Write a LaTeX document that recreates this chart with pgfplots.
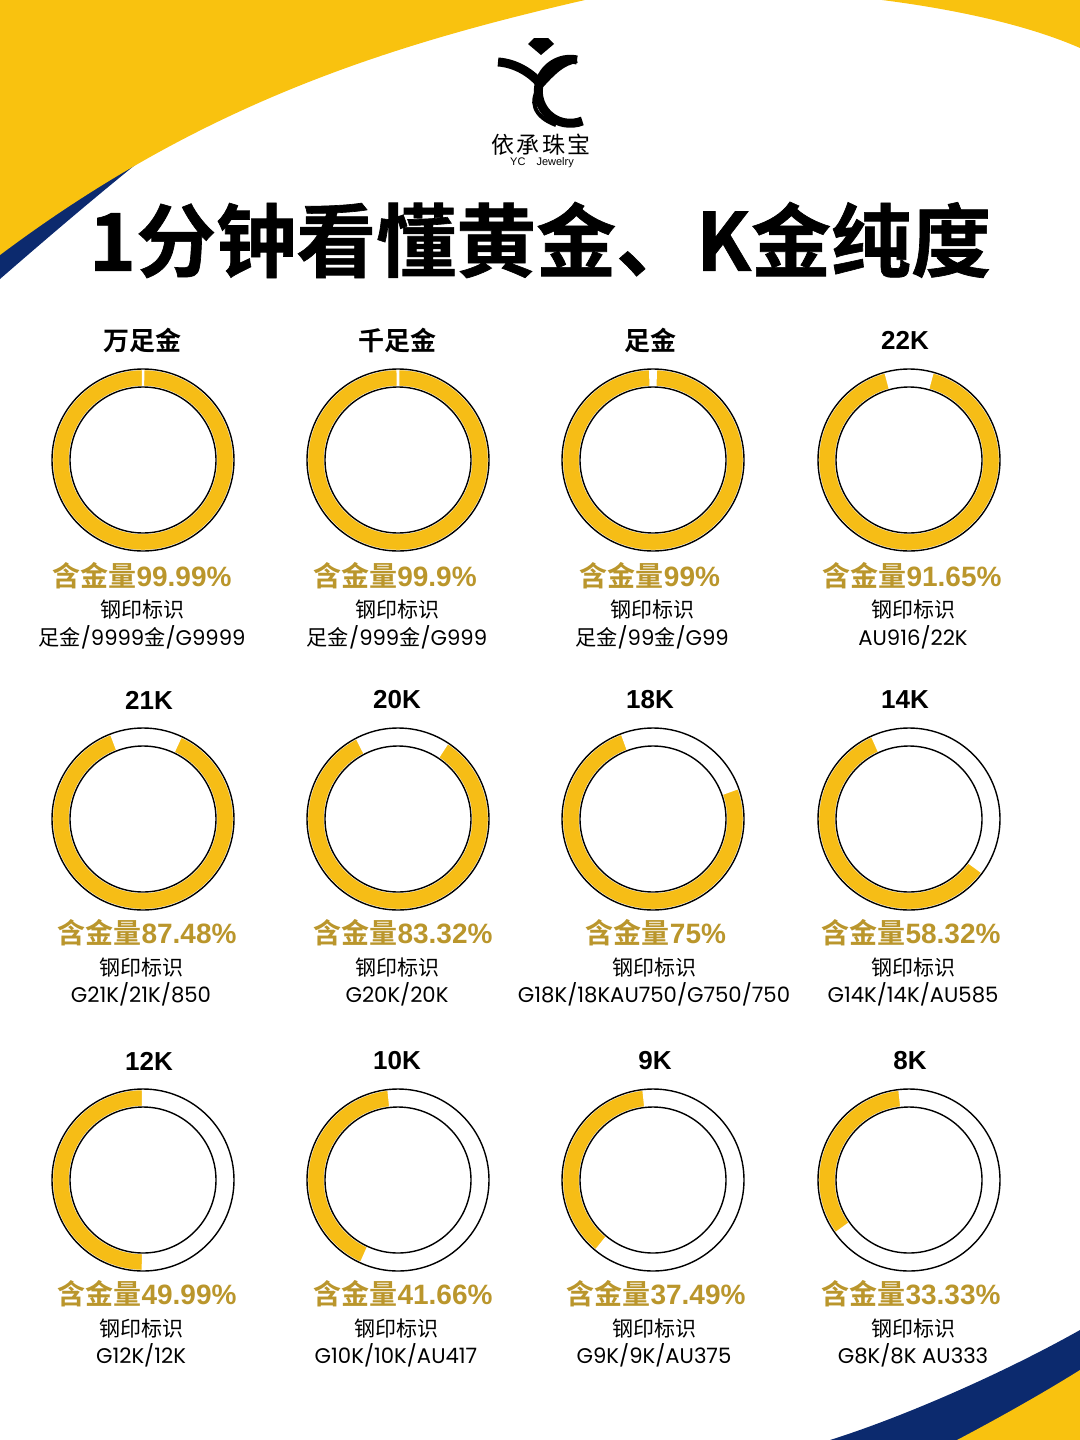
\documentclass[border=0pt]{standalone}
\usepackage{pgfplots}
\pgfplotsset{compat=1.18}
\usepackage{fontspec}
\setmainfont{Noto Sans CJK SC}[BoldFont={Noto Sans CJK SC Bold}]
\newfontfamily\cjk{Noto Sans CJK SC}[BoldFont={Noto Sans CJK SC Bold}]
\newfontfamily\heavy{Noto Sans CJK SC Bold}[FakeBold=0.8]
\newfontfamily\lib{Liberation Sans}
\newfontfamily\pop{Poppins}
\definecolor{ringyellow}{RGB}{246,189,22}
\definecolor{bgyellow}{RGB}{249,194,15}
\definecolor{navy}{RGB}{12,42,110}
\definecolor{goldtext}{RGB}{186,150,44}
\pgfdeclareplotmark{blank}{}
\pgfplotsset{
  donut/.style={
    scatter, only marks, mark=blank,
    point meta=explicit symbolic,
    scatter/@pre marker code/.code={%
      \pgfkeys{/pgf/fpu=false}%
      \pgfmathsetmacro\endang{#1+3.6*\pgfplotspointmeta}%
      \filldraw[fill=ringyellow, draw=white, line width=1.2pt] (#1:45.5pt) arc[start angle=#1, end angle=\endang, radius=45.5pt]
         -- (\endang:36.5pt) arc[start angle=\endang, end angle=#1, radius=36.5pt] -- cycle;
      \draw[black, line width=0.7pt] (0pt,0pt) circle[radius=45.5pt];
      \draw[black, line width=0.7pt] (0pt,0pt) circle[radius=36.5pt];
    },
    scatter/@post marker code/.code={},
  },
}
\newcommand\C[1]{{\cjk #1}}
% #1 label x, #2 percentage x, #3 stamp x, #4 label y, #5 label, #6 percent, #7 stamp code, #8 row shift
\newcommand\cell[8]{%
  \node[font=\bfseries\fontsize{13pt}{13pt}\selectfont] at (axis cs:#1,#4) {#5};
  \node[font=\bfseries\fontsize{14pt}{14pt}\selectfont, text=goldtext, inner sep=0pt] at (axis cs:#2,#4+236+#8) {含金量{\lib #6}};
  \node[font=\fontsize{10.5pt}{10.5pt}\selectfont] at (axis cs:#3,#4+270+#8) {钢印标识};
  \node[font=\pop\fontsize{10.6pt}{10.6pt}\selectfont] at (axis cs:#3,#4+297+#8) {#7};
}
\begin{document}
\begin{tikzpicture}
\begin{axis}[
  width=540pt, height=720pt, scale only axis,
  xmin=0, xmax=1080, ymin=0, ymax=1440, y dir=reverse,
  hide axis, clip=true,
]
% background decorations
\fill[navy] (axis cs:0,0) -- (axis cs:300,0) -- (axis cs:300,60) -- (axis cs:196,117) .. controls (axis cs:120,175) and (axis cs:45,240) .. (axis cs:0,279) -- cycle;
\fill[bgyellow] (axis cs:0,0) -- (axis cs:585,0) .. controls (axis cs:385,46) and (axis cs:200,105) .. (axis cs:0,255) -- cycle;
\fill[bgyellow] (axis cs:882,0) .. controls (axis cs:960,10) and (axis cs:1030,26) .. (axis cs:1080,48) -- (axis cs:1080,0) -- cycle;
\fill[navy] (axis cs:830,1440) .. controls (axis cs:900,1418) and (axis cs:1000,1375) .. (axis cs:1080,1330) -- (axis cs:1080,1440) -- cycle;
\fill[bgyellow] (axis cs:957,1440) .. controls (axis cs:995,1420) and (axis cs:1040,1395) .. (axis cs:1080,1370) -- (axis cs:1080,1440) -- cycle;
% logo
\fill[black] (axis cs:528,44) -- (axis cs:534,38) -- (axis cs:548,38) -- (axis cs:554,44) -- (axis cs:541,55) -- cycle;
\draw[line width=4.5pt, black] (axis cs:577,60) arc[start angle=78, end angle=292, radius=16pt];
\draw[line width=4.5pt, black] (axis cs:498,62) .. controls (axis cs:515,63) and (axis cs:532,73) .. (axis cs:541,85);
\draw[line width=3pt, black] (axis cs:541,85) .. controls (axis cs:552,73) and (axis cs:562,62) .. (axis cs:577,60);
\draw[line width=2pt, black] (axis cs:541,85) .. controls (axis cs:528,101) and (axis cs:534,117) .. (axis cs:556,125);
\node[font=\fontsize{11.5pt}{11.5pt}\selectfont] at (axis cs:541,145) {依\hspace{1.2pt}承\hspace{1.2pt}珠\hspace{1.2pt}宝};
\node[font=\lib\fontsize{5.5pt}{5.5pt}\selectfont] at (axis cs:542,163) {YC\quad Jewelry};
% title
\node[font=\heavy\fontsize{40pt}{40pt}\selectfont] at (axis cs:540,240) {1分钟看懂黄金、K金纯度};
% donuts: (centre x, centre y) [gold content in percent]
\addplot[donut=90]    coordinates {(143,460) [99.99]};
\addplot[donut=90.2]  coordinates {(398,460) [99.9]};
\addplot[donut=91.8]  coordinates {(653,460) [99]};
\addplot[donut=105]   coordinates {(909,460) [91.65]};
\addplot[donut=110.5] coordinates {(143,819) [87.48]};
\addplot[donut=117]   coordinates {(398,819) [83.32]};
\addplot[donut=110]   coordinates {(653,819) [75]};
\addplot[donut=114]   coordinates {(909,819) [58.32]};
\addplot[donut=90]    coordinates {(143,1180) [49.99]};
\addplot[donut=96]    coordinates {(398,1180) [41.66]};
\addplot[donut=96]    coordinates {(653,1180) [37.49]};
\addplot[donut=96]    coordinates {(909,1180) [33.33]};
% texts
\cell{142}{142}{142}{340}{万足金}{99.99\%}{\C{足金}/9999\C{金}/G9999}{0}
\cell{397}{395}{397}{340}{千足金}{99.9\%}{\C{足金}/999\C{金}/G999}{0}
\cell{650}{650}{652}{340}{足金}{99\%}{\C{足金}/99\C{金}/G99}{0}
\cell{905}{912}{913}{340}{{\lib 22K}}{91.65\%}{AU916/22K}{0}
\cell{149}{147}{141}{700}{{\lib 21K}}{87.48\%}{G21K/21K/850}{-3}
\cell{397}{403}{397}{700}{{\lib 20K}}{83.32\%}{G20K/20K}{-3}
\cell{650}{656}{654}{700}{{\lib 18K}}{75\%}{G18K/18KAU750/G750/750}{-3}
\cell{905}{911}{913}{700}{{\lib 14K}}{58.32\%}{G14K/14K/AU585}{-3}
\cell{149}{147}{141}{1061}{{\lib 12K}}{49.99\%}{G12K/12K}{-3}
\cell{397}{403}{396}{1061}{{\lib 10K}}{41.66\%}{G10K/10K/AU417}{-3}
\cell{655}{656}{654}{1061}{{\lib 9K}}{37.49\%}{G9K/9K/AU375}{-3}
\cell{910}{911}{913}{1061}{{\lib 8K}}{33.33\%}{G8K/8K AU333}{-3}
\end{axis}
\end{tikzpicture}
\end{document}
